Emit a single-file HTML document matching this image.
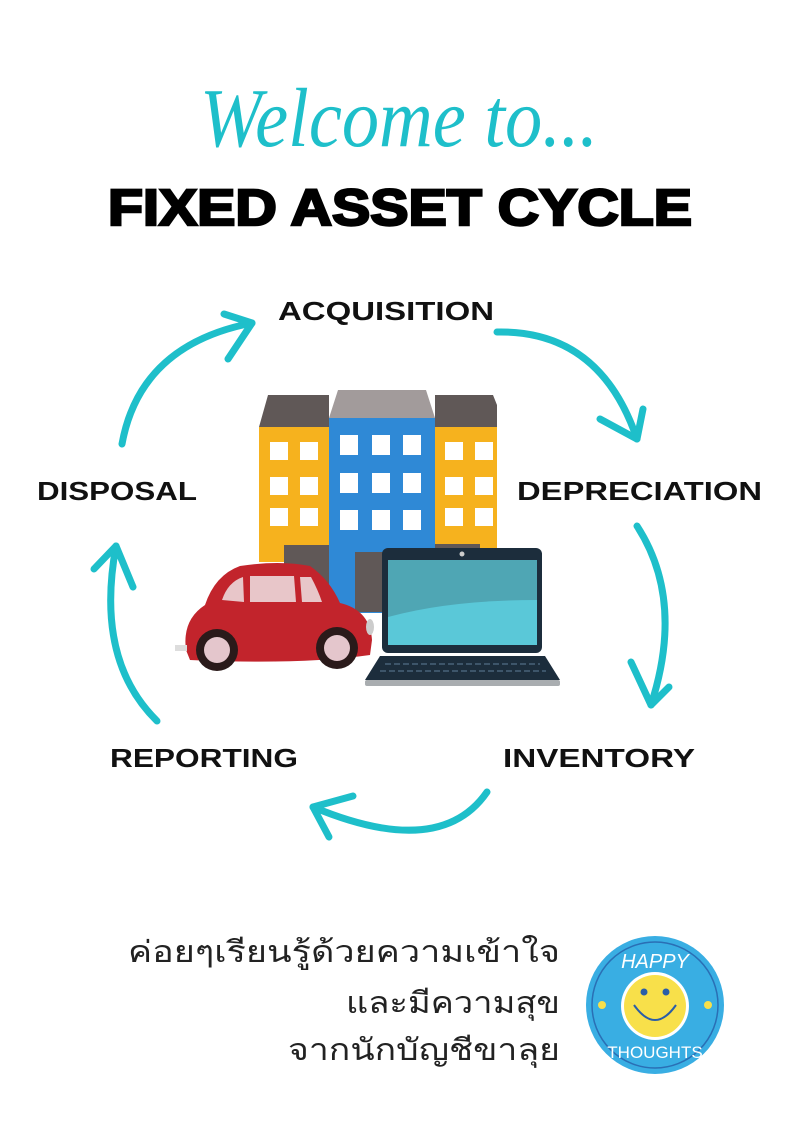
<!DOCTYPE html>
<html><head><meta charset="utf-8"><style>
html,body{margin:0;padding:0;background:#fff;}
svg{display:block}
</style></head><body>
<svg width="800" height="1132" viewBox="0 0 800 1132" xmlns="http://www.w3.org/2000/svg">
<rect width="800" height="1132" fill="#fff"/>
<text x="200" y="146" font-family="Liberation Serif, serif" font-style="italic" font-size="84" fill="#1ebfca" textLength="398" lengthAdjust="spacingAndGlyphs">Welcome to...</text>
<text x="108" y="225" font-family="Liberation Sans, sans-serif" font-weight="bold" font-size="51" fill="#000" stroke="#000" stroke-width="2.5" textLength="584" lengthAdjust="spacingAndGlyphs">FIXED ASSET CYCLE</text>

<g font-family="Liberation Sans, sans-serif" font-weight="bold" font-size="26" fill="#111">
<text x="278" y="320" textLength="216" lengthAdjust="spacingAndGlyphs">ACQUISITION</text>
<text x="37" y="500" textLength="160" lengthAdjust="spacingAndGlyphs">DISPOSAL</text>
<text x="517" y="500" textLength="245" lengthAdjust="spacingAndGlyphs">DEPRECIATION</text>
<text x="110" y="767" textLength="188" lengthAdjust="spacingAndGlyphs">REPORTING</text>
<text x="503" y="767" textLength="192" lengthAdjust="spacingAndGlyphs">INVENTORY</text>
</g>

<g fill="none" stroke="#1ebfca" stroke-width="7" stroke-linecap="round" stroke-linejoin="round">
<path d="M122 444 Q140 345 252 323"/><path d="M224 314 L252 323 L228 359"/>
<path d="M497 332 Q600 330 637 439"/><path d="M600 419 L637 439 L643 409"/>
<path d="M637 526 Q685 600 651 705"/><path d="M631 662 L651 705 L669 687"/>
<path d="M487 792 Q440 860 313 807"/><path d="M353 796 L313 807 L329 837"/>
<path d="M157 721 Q95 660 116 546"/><path d="M94 569 L116 546 L133 587"/>
</g>

<!-- buildings -->
<polygon points="268,395 329,395 329,427 259,427" fill="#605857"/>
<polygon points="435,395 493,395 497,405 497,427 435,427" fill="#605857"/>
<polygon points="338,390 426,390 435,418 329,418" fill="#a29b9b"/>
<rect x="259" y="427" width="70" height="135" fill="#f6b21e"/>
<rect x="435" y="427" width="62" height="135" fill="#f6b21e"/>
<rect x="329" y="418" width="106" height="195" fill="#2f89d6"/>
<g fill="#fff">
<rect x="270" y="442" width="18" height="18"/><rect x="300" y="442" width="18" height="18"/>
<rect x="270" y="477" width="18" height="18"/><rect x="300" y="477" width="18" height="18"/>
<rect x="270" y="508" width="18" height="18"/><rect x="300" y="508" width="18" height="18"/>
<rect x="445" y="442" width="18" height="18"/><rect x="475" y="442" width="18" height="18"/>
<rect x="445" y="477" width="18" height="18"/><rect x="475" y="477" width="18" height="18"/>
<rect x="445" y="508" width="18" height="18"/><rect x="475" y="508" width="18" height="18"/>
<rect x="340" y="435" width="18" height="20"/><rect x="372" y="435" width="18" height="20"/><rect x="403" y="435" width="18" height="20"/>
<rect x="340" y="473" width="18" height="20"/><rect x="372" y="473" width="18" height="20"/><rect x="403" y="473" width="18" height="20"/>
<rect x="340" y="510" width="18" height="20"/><rect x="372" y="510" width="18" height="20"/><rect x="403" y="510" width="18" height="20"/>
</g>
<rect x="284" y="545" width="45" height="60" fill="#605857"/>
<rect x="355" y="552" width="30" height="60" fill="#605857"/>
<rect x="435" y="544" width="45" height="10" fill="#605857"/>

<!-- car -->
<path d="M186 650 Q182 620 205 605 Q215 575 240 566 Q280 560 310 566 Q330 580 340 603 Q370 610 372 640 L370 655 Q300 665 190 660 Z" fill="#c2242c"/>
<path d="M222 600 Q228 582 243 577 L244 602 Z M250 576 L294 576 L296 602 L250 602 Z M300 577 L311 577 Q318 590 322 602 L302 602 Z" fill="#e8c6c9"/>
<rect x="175" y="645" width="12" height="6" fill="#ddd"/>
<ellipse cx="370" cy="627" rx="4" ry="8" fill="#ccc"/>
<circle cx="217" cy="650" r="21" fill="#2a1a1a"/><circle cx="217" cy="650" r="13" fill="#e4c6cc"/>
<circle cx="337" cy="648" r="21" fill="#2a1a1a"/><circle cx="337" cy="648" r="13" fill="#e4c6cc"/>

<!-- laptop -->
<rect x="382" y="548" width="160" height="105" rx="6" fill="#1c2d3c"/>
<rect x="388" y="560" width="149" height="85" fill="#4fa6b4"/>
<path d="M388 645 L388 617 Q450 600 537 600 L537 645 Z" fill="#5ac8d8"/>
<circle cx="462" cy="554" r="2.5" fill="#ccc"/>
<polygon points="380,656 545,656 560,680 365,680" fill="#1c2d3c"/>
<rect x="365" y="680" width="195" height="6" rx="2" fill="#a9adb0"/>
<g stroke="#3d556a" stroke-width="2"><line x1="385" y1="664" x2="540" y2="664" stroke-dasharray="6 3"/><line x1="380" y1="671" x2="546" y2="671" stroke-dasharray="6 3"/></g>

<!-- thai -->
<g font-family="Liberation Sans, 'Noto Sans CJK SC', 'DejaVu Sans', sans-serif" font-size="30" fill="#222" text-anchor="end">
<text x="560" y="962" textLength="432" lengthAdjust="spacingAndGlyphs">ค่อยๆเรียนรู้ด้วยความเข้าใจ</text>
<text x="560" y="1013" textLength="214" lengthAdjust="spacingAndGlyphs">และมีความสุข</text>
<text x="560" y="1060" textLength="272" lengthAdjust="spacingAndGlyphs">จากนักบัญชีขาลุย</text>
</g>

<!-- badge -->
<circle cx="655" cy="1005" r="69" fill="#39aee3"/>
<circle cx="655" cy="1005" r="63" fill="none" stroke="#2a6fb5" stroke-width="1.5"/>
<circle cx="655" cy="1006" r="34" fill="#fff"/>
<circle cx="655" cy="1006" r="31" fill="#f8e04a"/>
<circle cx="644" cy="992" r="3.5" fill="#2a5da8"/><circle cx="666" cy="992" r="3.5" fill="#2a5da8"/>
<path d="M634 1005 Q655 1035 676 1005" fill="none" stroke="#2a5da8" stroke-width="2"/>
<circle cx="602" cy="1005" r="4" fill="#f8e04a"/><circle cx="708" cy="1005" r="4" fill="#f8e04a"/>
<text x="655" y="968" font-family="Liberation Sans, sans-serif" font-size="20" fill="#fff" text-anchor="middle" font-style="italic">HAPPY</text>
<text x="655" y="1058" font-family="Liberation Sans, sans-serif" font-size="17" fill="#fff" text-anchor="middle">THOUGHTS</text>
</svg>
</body></html>
